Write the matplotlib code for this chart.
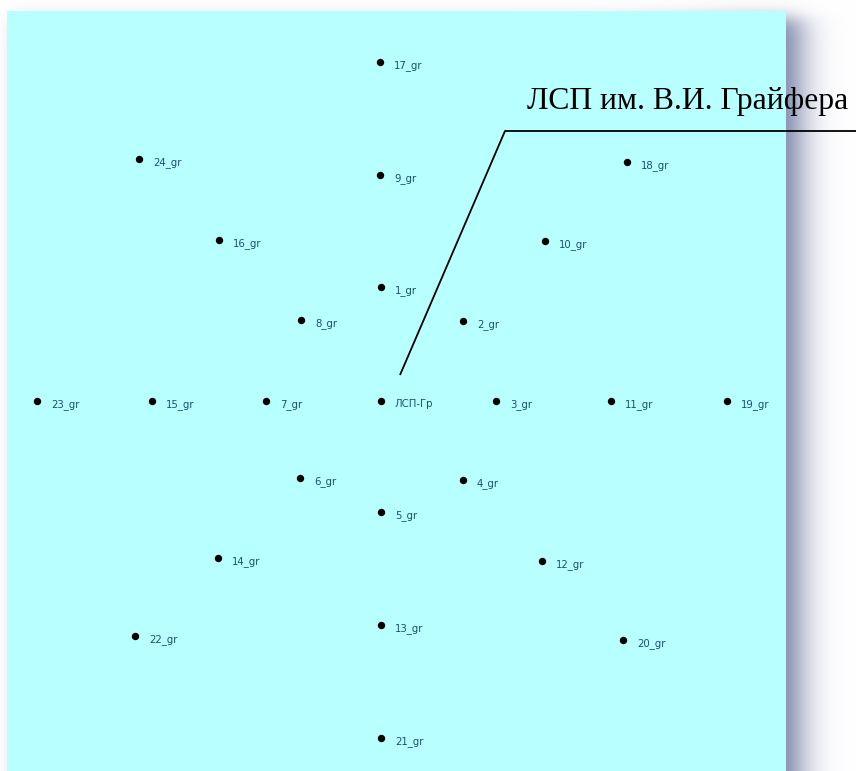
import numpy as np
import matplotlib
matplotlib.use("Agg")
import matplotlib.pyplot as plt
from matplotlib.patches import Rectangle

# Data: well positions relative to the platform (x to the right, y upward)
labels = ["17_gr", "24_gr", "9_gr", "18_gr", "16_gr", "10_gr", "1_gr", "8_gr", "2_gr",
          "23_gr", "15_gr", "7_gr", "ЛСП-Гр", "3_gr", "11_gr", "19_gr",
          "6_gr", "4_gr", "5_gr", "14_gr", "12_gr", "13_gr", "22_gr", "20_gr", "21_gr"]
x_pos = [-1, -242, -1, 246, -162, 164, 0, -80, 82,
         -344, -229, -115, 0, 115, 230, 346,
         -81, 82, 0, -163, 161, 0, -246, 242, 0]
y_pos = [339, 242, 226, 239, 161, 160, 114, 81, 80,
         0, 0, 0, 0, 0, 0, 0,
         -77, -79, -111, -157, -160, -224, -235, -239, -337]
callout_text = "ЛСП им. В.И. Грайфера"

W, H = 856, 771
fig = plt.figure(figsize=(W / 100, H / 100), dpi=100)
ax = fig.add_axes([0, 0, 1, 1])
# coordinate frame: centre of the platform at pixel (381, 401)
cx, cy = 381, 401
ax.set_xlim(-cx, W - cx)
ax.set_ylim(cy - H, cy)
ax.axis("off")

# shadow behind the panel
px = np.arange(W)[None, :] + 0.5
py = np.arange(H)[:, None] + 0.5
sig = lambda t: 1 / (1 + np.exp(-t))
alpha = sig((800 - px) / 10) * sig((px - 14) / 5) * sig((py - 18) / 5)
alpha = alpha * (0.4 + 0.6 * sig((px - 700) / 30))
shadow_col = np.array([110, 120, 160]) / 255
img = np.ones((H, W, 3)) * (1 - alpha[..., None]) + shadow_col * alpha[..., None]
ax.imshow(img, extent=(-cx, W - cx, cy - H, cy), origin="upper", zorder=0, aspect="auto")

# panel
ax.add_patch(Rectangle((7 - cx, cy - H - 5), 779, H - 6,
                       facecolor="#b8ffff", edgecolor="none", zorder=1))

# wells
ax.plot(x_pos, y_pos, linestyle="none", marker="o", markersize=4.3,
        color="black", zorder=3)
for lab, x, y in zip(labels, x_pos, y_pos):
    ax.annotate(lab, (x, y), xytext=(10, -2.2), textcoords="offset points",
                ha="left", va="center", fontsize=7.3, color="#1b4f6e",
                family="DejaVu Sans", zorder=4)

# callout line and text
x0, y0 = 19, 26
x1, y1 = 124, 270
ax.plot([x0, x1, W - cx], [y0, y1, y1], color="black", lw=1.3, zorder=5,
        solid_capstyle="butt")
ax.text(W - cx - 8, y1 + 15, callout_text, ha="right", va="bottom",
        fontsize=22.8, family="Liberation Serif", color="black", zorder=6)

fig.savefig("out.png", dpi=100)
